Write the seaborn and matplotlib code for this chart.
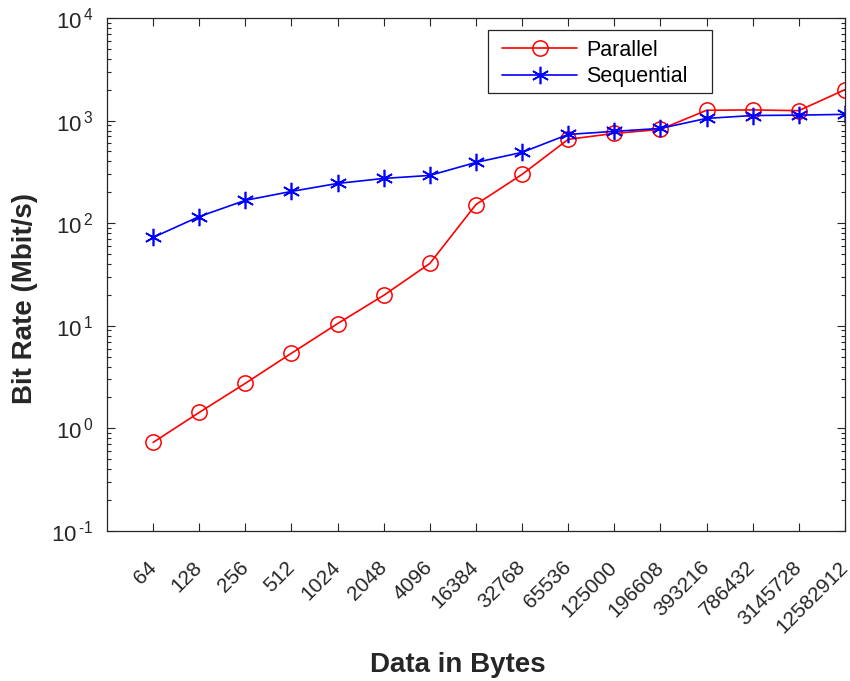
import numpy as np
import pandas as pd
import matplotlib
matplotlib.use("Agg")
import matplotlib.pyplot as plt
import seaborn as sns
from matplotlib.ticker import LogLocator
from matplotlib.patches import Rectangle

data_sizes = ["64", "128", "256", "512", "1024", "2048", "4096", "16384", "32768",
              "65536", "125000", "196608", "393216", "786432", "3145728", "12582912"]
parallel = [0.73, 1.43, 2.75, 5.4, 10.5, 19.8, 40.5, 152, 299, 656, 750, 820,
            1260, 1270, 1250, 2000]
sequential = [72.7, 116, 167, 204, 244, 273, 292, 391, 490, 733, 785, 839,
              1050, 1120, 1130, 1150]
y_ticks = [0.1, 1, 10, 100, 1000, 10000]
y_tick_labels = [r"$10^{\,\text{-}1}$", r"$10^{\,0}$", r"$10^{\,1}$", r"$10^{\,2}$",
                 r"$10^{\,3}$", r"$10^{\,4}$"]

sns.set_theme(style="ticks")
plt.rcParams["font.family"] = ["Liberation Sans", "DejaVu Sans"]
plt.rcParams["mathtext.fontset"] = "custom"
plt.rcParams["mathtext.rm"] = "Liberation Sans"
plt.rcParams["mathtext.it"] = "Liberation Sans"
plt.rcParams["mathtext.default"] = "regular"

ink = "#262626"
idx = np.arange(len(data_sizes))
df_par = pd.DataFrame({"pos": idx, "rate": parallel})
df_seq = pd.DataFrame({"pos": idx, "rate": sequential})

fig = plt.figure(figsize=(8.5, 6.81), dpi=100)
ax = fig.add_axes([0.1259, 0.2203, 0.8681, 0.7533])

sns.lineplot(data=df_par, x="pos", y="rate", color="#ff0000", marker="o",
             markersize=11, markerfacecolor="none", markeredgecolor="#ff0000",
             markeredgewidth=1.1, linewidth=1.2, label="Parallel", ax=ax)
sns.lineplot(data=df_seq, x="pos", y="rate", color="#0000ff", marker=(6, 2, 0),
             markersize=12.5, markeredgecolor="#0000ff", markeredgewidth=1.2,
             linewidth=1.2, label="Sequential", ax=ax)

ax.set_yscale("log")
ax.set_ylim(0.1, 1e4)
ax.set_xlim(-1, len(data_sizes) - 1)
ax.set_xticks(idx)
ax.set_xticklabels(data_sizes, rotation=45, ha="right", va="center",
                   rotation_mode="anchor", fontsize=15, color=ink)
ax.yaxis.set_minor_locator(LogLocator(base=10, subs=np.arange(2, 10), numticks=10))
ax.set_yticks(y_ticks)
ax.set_yticklabels(y_tick_labels, fontsize=16, color=ink)

ax.tick_params(axis="both", which="both", direction="in", top=True, right=True,
               colors=ink, width=0.8)
ax.tick_params(axis="both", which="major", length=6)
ax.tick_params(axis="y", which="minor", length=3)
ax.tick_params(axis="x", which="major", pad=24)
ax.tick_params(axis="y", which="major", pad=10)
for s in ax.spines.values():
    s.set_linewidth(0.9)
    s.set_color(ink)

ax.set_xlabel("Data in Bytes", fontsize=20, fontweight="bold", color=ink)
ax.set_ylabel("Bit Rate (Mbit/s)", fontsize=20, fontweight="bold", color=ink)
ax.xaxis.set_label_coords(0.4756, -0.235)
ax.yaxis.set_label_coords(-0.093, 0.454)

# legend entries without a frame, boxed by a separate rectangle
leg = ax.legend(loc="upper left", bbox_to_anchor=(0.5352, 0.958), borderaxespad=0,
                fontsize=15.5, frameon=False, handlelength=3.5,
                handletextpad=0.42, borderpad=0, labelspacing=0.26)
for t in leg.get_texts():
    t.set_color("#000000")
ax.add_patch(Rectangle((0.5163, 0.8538), 0.8198 - 0.5163, 0.9766 - 0.8538,
                       transform=ax.transAxes, fill=True, facecolor="white",
                       edgecolor=ink, linewidth=0.9, zorder=4))
leg.set_zorder(5)

fig.savefig("out.png", dpi=100)
